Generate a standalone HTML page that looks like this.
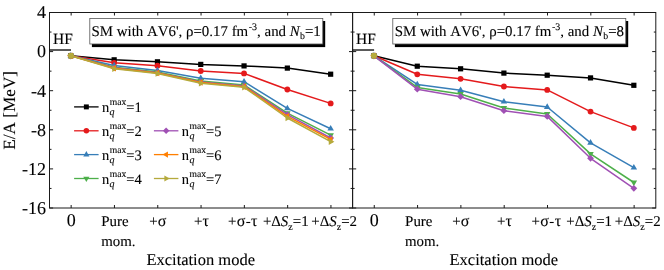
<!DOCTYPE html>
<html><head><meta charset="utf-8"><title>chart</title>
<style>html,body{margin:0;padding:0;background:#fff;}body{width:664px;height:270px;overflow:hidden;font-family:"Liberation Serif",serif;}svg{display:block;}text{font-kerning:none;text-rendering:geometricPrecision;stroke:#000;stroke-width:0.1px;}svg{filter:blur(0.4px);}</style>
</head><body>
<svg width="664" height="270" viewBox="0 0 664 270" font-family="'Liberation Serif', serif" fill="#000">
<rect width="664" height="270" fill="#fff"/>
<polyline points="70.85,55.80 114.15,59.80 157.45,61.80 200.75,64.40 244.05,65.90 287.35,68.10 330.65,74.20" fill="none" stroke="#000000" stroke-width="1.5" stroke-linejoin="round"/>
<rect x="68.25" y="53.20" width="5.20" height="5.20" fill="#000000"/>
<rect x="111.55" y="57.20" width="5.20" height="5.20" fill="#000000"/>
<rect x="154.85" y="59.20" width="5.20" height="5.20" fill="#000000"/>
<rect x="198.15" y="61.80" width="5.20" height="5.20" fill="#000000"/>
<rect x="241.45" y="63.30" width="5.20" height="5.20" fill="#000000"/>
<rect x="284.75" y="65.50" width="5.20" height="5.20" fill="#000000"/>
<rect x="328.05" y="71.60" width="5.20" height="5.20" fill="#000000"/>
<polyline points="70.85,55.80 114.15,62.80 157.45,65.70 200.75,71.00 244.05,73.40 287.35,89.50 330.65,103.40" fill="none" stroke="#E41A1C" stroke-width="1.5" stroke-linejoin="round"/>
<circle cx="70.85" cy="55.80" r="2.90" fill="#E41A1C"/>
<circle cx="114.15" cy="62.80" r="2.90" fill="#E41A1C"/>
<circle cx="157.45" cy="65.70" r="2.90" fill="#E41A1C"/>
<circle cx="200.75" cy="71.00" r="2.90" fill="#E41A1C"/>
<circle cx="244.05" cy="73.40" r="2.90" fill="#E41A1C"/>
<circle cx="287.35" cy="89.50" r="2.90" fill="#E41A1C"/>
<circle cx="330.65" cy="103.40" r="2.90" fill="#E41A1C"/>
<polyline points="70.85,55.80 114.15,65.50 157.45,70.50 200.75,78.20 244.05,81.70 287.35,108.40 330.65,128.70" fill="none" stroke="#377EB8" stroke-width="1.5" stroke-linejoin="round"/>
<polygon points="70.85,52.05 74.10,57.67 67.60,57.67" fill="#377EB8"/>
<polygon points="114.15,61.75 117.40,67.38 110.90,67.38" fill="#377EB8"/>
<polygon points="157.45,66.75 160.70,72.38 154.20,72.38" fill="#377EB8"/>
<polygon points="200.75,74.45 204.00,80.08 197.50,80.08" fill="#377EB8"/>
<polygon points="244.05,77.95 247.30,83.58 240.80,83.58" fill="#377EB8"/>
<polygon points="287.35,104.65 290.60,110.28 284.10,110.28" fill="#377EB8"/>
<polygon points="330.65,124.95 333.90,130.57 327.40,130.57" fill="#377EB8"/>
<polyline points="70.85,55.80 114.15,67.30 157.45,72.10 200.75,81.00 244.05,85.00 287.35,113.20 330.65,135.20" fill="none" stroke="#4DAF4A" stroke-width="1.5" stroke-linejoin="round"/>
<polygon points="70.85,59.55 74.10,53.92 67.60,53.92" fill="#4DAF4A"/>
<polygon points="114.15,71.05 117.40,65.42 110.90,65.42" fill="#4DAF4A"/>
<polygon points="157.45,75.85 160.70,70.22 154.20,70.22" fill="#4DAF4A"/>
<polygon points="200.75,84.75 204.00,79.12 197.50,79.12" fill="#4DAF4A"/>
<polygon points="244.05,88.75 247.30,83.12 240.80,83.12" fill="#4DAF4A"/>
<polygon points="287.35,116.95 290.60,111.33 284.10,111.33" fill="#4DAF4A"/>
<polygon points="330.65,138.95 333.90,133.32 327.40,133.32" fill="#4DAF4A"/>
<polyline points="70.85,55.80 114.15,67.80 157.45,72.70 200.75,82.00 244.05,86.00 287.35,114.60 330.65,138.00" fill="none" stroke="#A050B4" stroke-width="1.5" stroke-linejoin="round"/>
<polygon points="70.85,52.40 74.25,55.80 70.85,59.20 67.45,55.80" fill="#A050B4"/>
<polygon points="114.15,64.40 117.55,67.80 114.15,71.20 110.75,67.80" fill="#A050B4"/>
<polygon points="157.45,69.30 160.85,72.70 157.45,76.10 154.05,72.70" fill="#A050B4"/>
<polygon points="200.75,78.60 204.15,82.00 200.75,85.40 197.35,82.00" fill="#A050B4"/>
<polygon points="244.05,82.60 247.45,86.00 244.05,89.40 240.65,86.00" fill="#A050B4"/>
<polygon points="287.35,111.20 290.75,114.60 287.35,118.00 283.95,114.60" fill="#A050B4"/>
<polygon points="330.65,134.60 334.05,138.00 330.65,141.40 327.25,138.00" fill="#A050B4"/>
<polyline points="70.85,55.80 114.15,68.20 157.45,73.10 200.75,82.60 244.05,86.70 287.35,116.30 330.65,139.40" fill="none" stroke="#FF7F00" stroke-width="1.5" stroke-linejoin="round"/>
<polygon points="67.10,55.80 72.73,52.55 72.73,59.05" fill="#FF7F00"/>
<polygon points="110.40,68.20 116.03,64.95 116.03,71.45" fill="#FF7F00"/>
<polygon points="153.70,73.10 159.32,69.85 159.32,76.35" fill="#FF7F00"/>
<polygon points="197.00,82.60 202.62,79.35 202.62,85.85" fill="#FF7F00"/>
<polygon points="240.30,86.70 245.92,83.45 245.92,89.95" fill="#FF7F00"/>
<polygon points="283.60,116.30 289.23,113.05 289.23,119.55" fill="#FF7F00"/>
<polygon points="326.90,139.40 332.52,136.15 332.52,142.65" fill="#FF7F00"/>
<polyline points="70.85,55.80 114.15,68.70 157.45,73.50 200.75,83.20 244.05,87.30 287.35,118.00 330.65,141.70" fill="none" stroke="#B5AA3C" stroke-width="1.5" stroke-linejoin="round"/>
<circle cx="70.85" cy="55.80" r="3.0" fill="#B5AA3C"/>
<polygon points="74.60,55.80 68.98,52.55 68.98,59.05" fill="#B5AA3C"/>
<polygon points="117.90,68.70 112.28,65.45 112.28,71.95" fill="#B5AA3C"/>
<polygon points="161.20,73.50 155.57,70.25 155.57,76.75" fill="#B5AA3C"/>
<polygon points="204.50,83.20 198.88,79.95 198.88,86.45" fill="#B5AA3C"/>
<polygon points="247.80,87.30 242.17,84.05 242.17,90.55" fill="#B5AA3C"/>
<polygon points="291.10,118.00 285.48,114.75 285.48,121.25" fill="#B5AA3C"/>
<polygon points="334.40,141.70 328.77,138.45 328.77,144.95" fill="#B5AA3C"/>
<polyline points="373.96,55.80 417.27,66.20 460.59,68.80 503.90,73.10 547.21,75.20 590.53,77.90 633.84,85.30" fill="none" stroke="#000000" stroke-width="1.5" stroke-linejoin="round"/>
<rect x="371.36" y="53.20" width="5.20" height="5.20" fill="#000000"/>
<rect x="414.67" y="63.60" width="5.20" height="5.20" fill="#000000"/>
<rect x="457.99" y="66.20" width="5.20" height="5.20" fill="#000000"/>
<rect x="501.30" y="70.50" width="5.20" height="5.20" fill="#000000"/>
<rect x="544.61" y="72.60" width="5.20" height="5.20" fill="#000000"/>
<rect x="587.93" y="75.30" width="5.20" height="5.20" fill="#000000"/>
<rect x="631.24" y="82.70" width="5.20" height="5.20" fill="#000000"/>
<polyline points="373.96,55.80 417.27,74.30 460.59,78.80 503.90,86.50 547.21,89.90 590.53,111.60 633.84,127.90" fill="none" stroke="#E41A1C" stroke-width="1.5" stroke-linejoin="round"/>
<circle cx="373.96" cy="55.80" r="2.90" fill="#E41A1C"/>
<circle cx="417.27" cy="74.30" r="2.90" fill="#E41A1C"/>
<circle cx="460.59" cy="78.80" r="2.90" fill="#E41A1C"/>
<circle cx="503.90" cy="86.50" r="2.90" fill="#E41A1C"/>
<circle cx="547.21" cy="89.90" r="2.90" fill="#E41A1C"/>
<circle cx="590.53" cy="111.60" r="2.90" fill="#E41A1C"/>
<circle cx="633.84" cy="127.90" r="2.90" fill="#E41A1C"/>
<polyline points="373.96,55.80 417.27,84.40 460.59,90.20 503.90,101.70 547.21,107.00 590.53,142.80 633.84,167.70" fill="none" stroke="#377EB8" stroke-width="1.5" stroke-linejoin="round"/>
<polygon points="373.96,52.05 377.20,57.67 370.71,57.67" fill="#377EB8"/>
<polygon points="417.27,80.65 420.52,86.27 414.02,86.27" fill="#377EB8"/>
<polygon points="460.59,86.45 463.83,92.08 457.34,92.08" fill="#377EB8"/>
<polygon points="503.90,97.95 507.15,103.58 500.65,103.58" fill="#377EB8"/>
<polygon points="547.21,103.25 550.46,108.88 543.97,108.88" fill="#377EB8"/>
<polygon points="590.53,139.05 593.78,144.68 587.28,144.68" fill="#377EB8"/>
<polygon points="633.84,163.95 637.09,169.58 630.60,169.58" fill="#377EB8"/>
<polyline points="373.96,55.80 417.27,87.40 460.59,94.00 503.90,108.00 547.21,114.00 590.53,153.90 633.84,182.50" fill="none" stroke="#4DAF4A" stroke-width="1.5" stroke-linejoin="round"/>
<polygon points="373.96,59.55 377.20,53.92 370.71,53.92" fill="#4DAF4A"/>
<polygon points="417.27,91.15 420.52,85.52 414.02,85.52" fill="#4DAF4A"/>
<polygon points="460.59,97.75 463.83,92.12 457.34,92.12" fill="#4DAF4A"/>
<polygon points="503.90,111.75 507.15,106.12 500.65,106.12" fill="#4DAF4A"/>
<polygon points="547.21,117.75 550.46,112.12 543.97,112.12" fill="#4DAF4A"/>
<polygon points="590.53,157.65 593.78,152.03 587.28,152.03" fill="#4DAF4A"/>
<polygon points="633.84,186.25 637.09,180.62 630.60,180.62" fill="#4DAF4A"/>
<polyline points="373.96,55.80 417.27,89.20 460.59,96.70 503.90,110.70 547.21,116.40 590.53,158.30 633.84,188.30" fill="none" stroke="#A050B4" stroke-width="1.5" stroke-linejoin="round"/>
<polygon points="373.96,52.40 377.36,55.80 373.96,59.20 370.56,55.80" fill="#A050B4"/>
<polygon points="417.27,85.80 420.67,89.20 417.27,92.60 413.87,89.20" fill="#A050B4"/>
<polygon points="460.59,93.30 463.99,96.70 460.59,100.10 457.19,96.70" fill="#A050B4"/>
<polygon points="503.90,107.30 507.30,110.70 503.90,114.10 500.50,110.70" fill="#A050B4"/>
<polygon points="547.21,113.00 550.61,116.40 547.21,119.80 543.81,116.40" fill="#A050B4"/>
<polygon points="590.53,154.90 593.93,158.30 590.53,161.70 587.13,158.30" fill="#A050B4"/>
<polygon points="633.84,184.90 637.24,188.30 633.84,191.70 630.44,188.30" fill="#A050B4"/>
<polygon points="370.21,55.80 375.83,52.55 375.83,59.05" fill="#FF7F00"/>
<circle cx="373.96" cy="55.80" r="3.0" fill="#B5AA3C"/>
<polygon points="377.71,55.80 372.08,52.55 372.08,59.05" fill="#B5AA3C"/>
<rect x="49.5" y="12.5" width="303.1" height="195.5" fill="none" stroke="#1a1a1a" stroke-width="1"/>
<line x1="71.15" y1="208.0" x2="71.15" y2="205.0" stroke="#1a1a1a" stroke-width="1"/>
<line x1="71.15" y1="12.5" x2="71.15" y2="15.5" stroke="#1a1a1a" stroke-width="1"/>
<line x1="114.45" y1="208.0" x2="114.45" y2="205.0" stroke="#1a1a1a" stroke-width="1"/>
<line x1="114.45" y1="12.5" x2="114.45" y2="15.5" stroke="#1a1a1a" stroke-width="1"/>
<line x1="157.75" y1="208.0" x2="157.75" y2="205.0" stroke="#1a1a1a" stroke-width="1"/>
<line x1="157.75" y1="12.5" x2="157.75" y2="15.5" stroke="#1a1a1a" stroke-width="1"/>
<line x1="201.05" y1="208.0" x2="201.05" y2="205.0" stroke="#1a1a1a" stroke-width="1"/>
<line x1="201.05" y1="12.5" x2="201.05" y2="15.5" stroke="#1a1a1a" stroke-width="1"/>
<line x1="244.35" y1="208.0" x2="244.35" y2="205.0" stroke="#1a1a1a" stroke-width="1"/>
<line x1="244.35" y1="12.5" x2="244.35" y2="15.5" stroke="#1a1a1a" stroke-width="1"/>
<line x1="287.65" y1="208.0" x2="287.65" y2="205.0" stroke="#1a1a1a" stroke-width="1"/>
<line x1="287.65" y1="12.5" x2="287.65" y2="15.5" stroke="#1a1a1a" stroke-width="1"/>
<line x1="330.95" y1="208.0" x2="330.95" y2="205.0" stroke="#1a1a1a" stroke-width="1"/>
<line x1="330.95" y1="12.5" x2="330.95" y2="15.5" stroke="#1a1a1a" stroke-width="1"/>
<line x1="49.5" y1="12.50" x2="53.1" y2="12.50" stroke="#1a1a1a" stroke-width="1"/>
<line x1="352.6" y1="12.50" x2="349.0" y2="12.50" stroke="#1a1a1a" stroke-width="1"/>
<line x1="49.5" y1="32.05" x2="51.5" y2="32.05" stroke="#1a1a1a" stroke-width="1"/>
<line x1="352.6" y1="32.05" x2="350.6" y2="32.05" stroke="#1a1a1a" stroke-width="1"/>
<line x1="49.5" y1="51.60" x2="53.1" y2="51.60" stroke="#1a1a1a" stroke-width="1"/>
<line x1="352.6" y1="51.60" x2="349.0" y2="51.60" stroke="#1a1a1a" stroke-width="1"/>
<line x1="49.5" y1="71.15" x2="51.5" y2="71.15" stroke="#1a1a1a" stroke-width="1"/>
<line x1="352.6" y1="71.15" x2="350.6" y2="71.15" stroke="#1a1a1a" stroke-width="1"/>
<line x1="49.5" y1="90.70" x2="53.1" y2="90.70" stroke="#1a1a1a" stroke-width="1"/>
<line x1="352.6" y1="90.70" x2="349.0" y2="90.70" stroke="#1a1a1a" stroke-width="1"/>
<line x1="49.5" y1="110.25" x2="51.5" y2="110.25" stroke="#1a1a1a" stroke-width="1"/>
<line x1="352.6" y1="110.25" x2="350.6" y2="110.25" stroke="#1a1a1a" stroke-width="1"/>
<line x1="49.5" y1="129.80" x2="53.1" y2="129.80" stroke="#1a1a1a" stroke-width="1"/>
<line x1="352.6" y1="129.80" x2="349.0" y2="129.80" stroke="#1a1a1a" stroke-width="1"/>
<line x1="49.5" y1="149.35" x2="51.5" y2="149.35" stroke="#1a1a1a" stroke-width="1"/>
<line x1="352.6" y1="149.35" x2="350.6" y2="149.35" stroke="#1a1a1a" stroke-width="1"/>
<line x1="49.5" y1="168.90" x2="53.1" y2="168.90" stroke="#1a1a1a" stroke-width="1"/>
<line x1="352.6" y1="168.90" x2="349.0" y2="168.90" stroke="#1a1a1a" stroke-width="1"/>
<line x1="49.5" y1="188.45" x2="51.5" y2="188.45" stroke="#1a1a1a" stroke-width="1"/>
<line x1="352.6" y1="188.45" x2="350.6" y2="188.45" stroke="#1a1a1a" stroke-width="1"/>
<line x1="49.5" y1="208.00" x2="53.1" y2="208.00" stroke="#1a1a1a" stroke-width="1"/>
<line x1="352.6" y1="208.00" x2="349.0" y2="208.00" stroke="#1a1a1a" stroke-width="1"/>
<line x1="49.5" y1="50.0" x2="71.0" y2="50.0" stroke="#000" stroke-width="1.3"/>
<text x="53.0" y="44.2" font-size="15.5">HF</text>
<rect x="352.6" y="12.5" width="303.19999999999993" height="195.5" fill="none" stroke="#1a1a1a" stroke-width="1"/>
<line x1="374.26" y1="208.0" x2="374.26" y2="205.0" stroke="#1a1a1a" stroke-width="1"/>
<line x1="374.26" y1="12.5" x2="374.26" y2="15.5" stroke="#1a1a1a" stroke-width="1"/>
<line x1="417.57" y1="208.0" x2="417.57" y2="205.0" stroke="#1a1a1a" stroke-width="1"/>
<line x1="417.57" y1="12.5" x2="417.57" y2="15.5" stroke="#1a1a1a" stroke-width="1"/>
<line x1="460.89" y1="208.0" x2="460.89" y2="205.0" stroke="#1a1a1a" stroke-width="1"/>
<line x1="460.89" y1="12.5" x2="460.89" y2="15.5" stroke="#1a1a1a" stroke-width="1"/>
<line x1="504.20" y1="208.0" x2="504.20" y2="205.0" stroke="#1a1a1a" stroke-width="1"/>
<line x1="504.20" y1="12.5" x2="504.20" y2="15.5" stroke="#1a1a1a" stroke-width="1"/>
<line x1="547.51" y1="208.0" x2="547.51" y2="205.0" stroke="#1a1a1a" stroke-width="1"/>
<line x1="547.51" y1="12.5" x2="547.51" y2="15.5" stroke="#1a1a1a" stroke-width="1"/>
<line x1="590.83" y1="208.0" x2="590.83" y2="205.0" stroke="#1a1a1a" stroke-width="1"/>
<line x1="590.83" y1="12.5" x2="590.83" y2="15.5" stroke="#1a1a1a" stroke-width="1"/>
<line x1="634.14" y1="208.0" x2="634.14" y2="205.0" stroke="#1a1a1a" stroke-width="1"/>
<line x1="634.14" y1="12.5" x2="634.14" y2="15.5" stroke="#1a1a1a" stroke-width="1"/>
<line x1="352.6" y1="12.50" x2="356.20000000000005" y2="12.50" stroke="#1a1a1a" stroke-width="1"/>
<line x1="655.8" y1="12.50" x2="652.1999999999999" y2="12.50" stroke="#1a1a1a" stroke-width="1"/>
<line x1="352.6" y1="32.05" x2="354.6" y2="32.05" stroke="#1a1a1a" stroke-width="1"/>
<line x1="655.8" y1="32.05" x2="653.8" y2="32.05" stroke="#1a1a1a" stroke-width="1"/>
<line x1="352.6" y1="51.60" x2="356.20000000000005" y2="51.60" stroke="#1a1a1a" stroke-width="1"/>
<line x1="655.8" y1="51.60" x2="652.1999999999999" y2="51.60" stroke="#1a1a1a" stroke-width="1"/>
<line x1="352.6" y1="71.15" x2="354.6" y2="71.15" stroke="#1a1a1a" stroke-width="1"/>
<line x1="655.8" y1="71.15" x2="653.8" y2="71.15" stroke="#1a1a1a" stroke-width="1"/>
<line x1="352.6" y1="90.70" x2="356.20000000000005" y2="90.70" stroke="#1a1a1a" stroke-width="1"/>
<line x1="655.8" y1="90.70" x2="652.1999999999999" y2="90.70" stroke="#1a1a1a" stroke-width="1"/>
<line x1="352.6" y1="110.25" x2="354.6" y2="110.25" stroke="#1a1a1a" stroke-width="1"/>
<line x1="655.8" y1="110.25" x2="653.8" y2="110.25" stroke="#1a1a1a" stroke-width="1"/>
<line x1="352.6" y1="129.80" x2="356.20000000000005" y2="129.80" stroke="#1a1a1a" stroke-width="1"/>
<line x1="655.8" y1="129.80" x2="652.1999999999999" y2="129.80" stroke="#1a1a1a" stroke-width="1"/>
<line x1="352.6" y1="149.35" x2="354.6" y2="149.35" stroke="#1a1a1a" stroke-width="1"/>
<line x1="655.8" y1="149.35" x2="653.8" y2="149.35" stroke="#1a1a1a" stroke-width="1"/>
<line x1="352.6" y1="168.90" x2="356.20000000000005" y2="168.90" stroke="#1a1a1a" stroke-width="1"/>
<line x1="655.8" y1="168.90" x2="652.1999999999999" y2="168.90" stroke="#1a1a1a" stroke-width="1"/>
<line x1="352.6" y1="188.45" x2="354.6" y2="188.45" stroke="#1a1a1a" stroke-width="1"/>
<line x1="655.8" y1="188.45" x2="653.8" y2="188.45" stroke="#1a1a1a" stroke-width="1"/>
<line x1="352.6" y1="208.00" x2="356.20000000000005" y2="208.00" stroke="#1a1a1a" stroke-width="1"/>
<line x1="655.8" y1="208.00" x2="652.1999999999999" y2="208.00" stroke="#1a1a1a" stroke-width="1"/>
<line x1="352.6" y1="50.0" x2="374.1" y2="50.0" stroke="#000" stroke-width="1.3"/>
<text x="356.1" y="44.2" font-size="15.5">HF</text>
<text x="46" y="18.30" font-size="18" text-anchor="end">4</text>
<text x="46" y="57.40" font-size="18" text-anchor="end">0</text>
<text x="46" y="96.50" font-size="18" text-anchor="end">-4</text>
<text x="46" y="135.60" font-size="18" text-anchor="end">-8</text>
<text x="46" y="174.70" font-size="18" text-anchor="end">-12</text>
<text x="46" y="213.80" font-size="18" text-anchor="end">-16</text>
<text transform="translate(15.2,110.3) rotate(-90)" font-size="17.2" text-anchor="middle">E/A [MeV]</text>
<text x="71.15" y="226.3" font-size="18" text-anchor="middle">0</text>
<text x="114.95" y="226.3" font-size="14.9" text-anchor="middle">Pure</text>
<text x="157.75" y="226.3" font-size="14.9" text-anchor="middle">+<tspan font-size="16">σ</tspan></text>
<text x="201.45" y="226.3" font-size="14.9" text-anchor="middle">+<tspan font-size="16">τ</tspan></text>
<text x="242.95" y="226.3" font-size="14.9" text-anchor="middle"><tspan letter-spacing="0.35">+<tspan font-size="16">σ</tspan>-<tspan font-size="16">τ</tspan></tspan></text>
<text x="285.75" y="226.3" font-size="14.9" text-anchor="middle">+Δ<tspan font-style="italic">S</tspan><tspan font-size="10" dy="4">z</tspan><tspan dy="-4">=1</tspan></text>
<text x="334.15" y="226.3" font-size="14.9" text-anchor="middle">+Δ<tspan font-style="italic">S</tspan><tspan font-size="10" dy="4">z</tspan><tspan dy="-4">=2</tspan></text>
<text x="101.25" y="245.6" font-size="14.9">mom.</text>
<text x="200.70" y="265" font-size="16.5" text-anchor="middle">Excitation mode</text>
<text x="374.26" y="226.3" font-size="18" text-anchor="middle">0</text>
<text x="418.77" y="226.3" font-size="14.9" text-anchor="middle">Pure</text>
<text x="460.89" y="226.3" font-size="14.9" text-anchor="middle">+<tspan font-size="16">σ</tspan></text>
<text x="504.50" y="226.3" font-size="14.9" text-anchor="middle">+<tspan font-size="16">τ</tspan></text>
<text x="546.51" y="226.3" font-size="14.9" text-anchor="middle"><tspan letter-spacing="0.35">+<tspan font-size="16">σ</tspan>-<tspan font-size="16">τ</tspan></tspan></text>
<text x="589.13" y="226.3" font-size="14.9" text-anchor="middle">+Δ<tspan font-style="italic">S</tspan><tspan font-size="10" dy="4">z</tspan><tspan dy="-4">=1</tspan></text>
<text x="637.74" y="226.3" font-size="14.9" text-anchor="middle">+Δ<tspan font-style="italic">S</tspan><tspan font-size="10" dy="4">z</tspan><tspan dy="-4">=2</tspan></text>
<text x="404.97" y="245.6" font-size="14.9">mom.</text>
<text x="503.85" y="265" font-size="16.5" text-anchor="middle">Excitation mode</text>
<rect x="91.89999999999999" y="21.0" width="233.3" height="26.1" fill="#000"/>
<rect x="89.8" y="18.4" width="233.0" height="25.6" fill="#fff" stroke="#555" stroke-width="0.8"/>
<text x="91.5" y="36" font-size="14.9">SM with AV6', ρ=0.17 fm<tspan font-size="10" dy="-6" dx="0.6">-3</tspan><tspan dy="6">, and </tspan><tspan font-style="italic">N</tspan><tspan font-size="9.8" dy="3" dx="0.3">b</tspan><tspan dy="-3">=1</tspan></text>
<rect x="394.90000000000003" y="21.0" width="233.3" height="26.1" fill="#000"/>
<rect x="392.8" y="18.4" width="233.0" height="25.6" fill="#fff" stroke="#555" stroke-width="0.8"/>
<text x="394.7" y="36" font-size="14.9">SM with AV6', ρ=0.17 fm<tspan font-size="10" dy="-6" dx="0.6">-3</tspan><tspan dy="6">, and </tspan><tspan font-style="italic">N</tspan><tspan font-size="9.8" dy="3" dx="0.3">b</tspan><tspan dy="-3">=8</tspan></text>
<line x1="74.1" y1="106.9" x2="98.6" y2="106.9" stroke="#000000" stroke-width="1.3"/>
<rect x="83.88" y="104.43" width="4.94" height="4.94" fill="#000000"/>
<text x="102.0" y="111.9" font-size="14.5">n<tspan font-size="9.6" dy="-6.6" dx="0.5">max</tspan><tspan dy="6.6">=1</tspan></text>
 <text x="109.6" y="115.4" font-size="10" font-style="italic">q</text>
<line x1="74.1" y1="130.8" x2="98.6" y2="130.8" stroke="#E41A1C" stroke-width="1.3"/>
<circle cx="86.35" cy="130.80" r="2.75" fill="#E41A1C"/>
<text x="102.0" y="135.8" font-size="14.5">n<tspan font-size="9.6" dy="-6.6" dx="0.5">max</tspan><tspan dy="6.6">=2</tspan></text>
 <text x="109.6" y="139.3" font-size="10" font-style="italic">q</text>
<line x1="74.1" y1="154.6" x2="98.6" y2="154.6" stroke="#377EB8" stroke-width="1.3"/>
<polygon points="86.35,151.04 89.44,156.38 83.26,156.38" fill="#377EB8"/>
<text x="102.0" y="159.6" font-size="14.5">n<tspan font-size="9.6" dy="-6.6" dx="0.5">max</tspan><tspan dy="6.6">=3</tspan></text>
 <text x="109.6" y="163.1" font-size="10" font-style="italic">q</text>
<line x1="74.1" y1="178.5" x2="98.6" y2="178.5" stroke="#4DAF4A" stroke-width="1.3"/>
<polygon points="86.35,182.06 89.44,176.72 83.26,176.72" fill="#4DAF4A"/>
<text x="102.0" y="183.5" font-size="14.5">n<tspan font-size="9.6" dy="-6.6" dx="0.5">max</tspan><tspan dy="6.6">=4</tspan></text>
 <text x="109.6" y="187.0" font-size="10" font-style="italic">q</text>
<line x1="153.9" y1="130.8" x2="178.4" y2="130.8" stroke="#A050B4" stroke-width="1.3"/>
<polygon points="166.15,127.57 169.38,130.80 166.15,134.03 162.92,130.80" fill="#A050B4"/>
<text x="181.8" y="135.8" font-size="14.5">n<tspan font-size="9.6" dy="-6.6" dx="0.5">max</tspan><tspan dy="6.6">=5</tspan></text>
 <text x="189.4" y="139.3" font-size="10" font-style="italic">q</text>
<line x1="153.9" y1="154.6" x2="178.4" y2="154.6" stroke="#FF7F00" stroke-width="1.3"/>
<polygon points="162.59,154.60 167.93,151.51 167.93,157.69" fill="#FF7F00"/>
<text x="181.8" y="159.6" font-size="14.5">n<tspan font-size="9.6" dy="-6.6" dx="0.5">max</tspan><tspan dy="6.6">=6</tspan></text>
 <text x="189.4" y="163.1" font-size="10" font-style="italic">q</text>
<line x1="153.9" y1="178.5" x2="178.4" y2="178.5" stroke="#B5AA3C" stroke-width="1.3"/>
<polygon points="169.71,178.50 164.37,175.41 164.37,181.59" fill="#B5AA3C"/>
<text x="181.8" y="183.5" font-size="14.5">n<tspan font-size="9.6" dy="-6.6" dx="0.5">max</tspan><tspan dy="6.6">=7</tspan></text>
 <text x="189.4" y="187.0" font-size="10" font-style="italic">q</text>
</svg>
</body></html>
